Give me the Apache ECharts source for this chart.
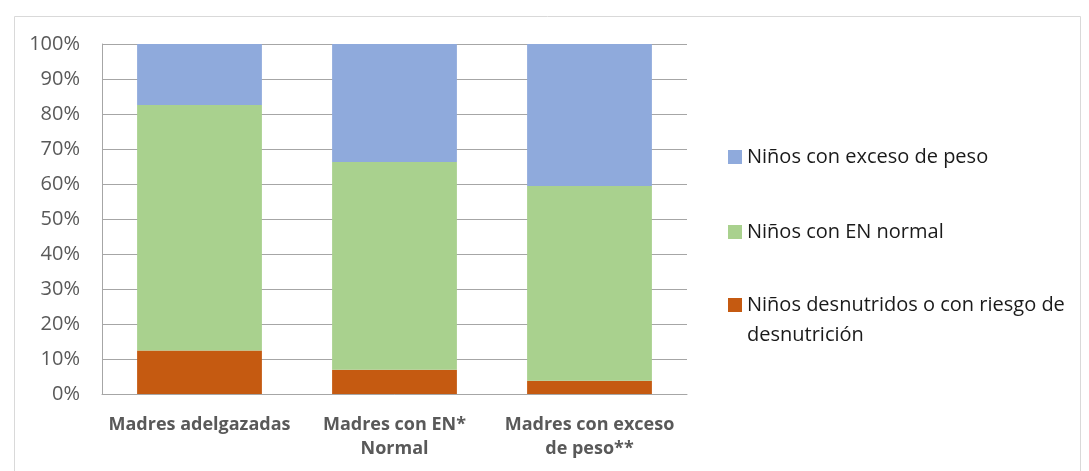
<!DOCTYPE html>
<html>
<head>
<meta charset="utf-8">
<script src="https://cdn.jsdelivr.net/npm/echarts@6/dist/echarts.min.js"></script>
<style>
  html, body { margin: 0; padding: 0; background: #fff; }
  #chart { width: 1089px; height: 471px; }
</style>
</head>
<body>
<div id="chart"></div>
<script>
const categories = ['Madres adelgazadas', 'Madres con EN*\nNormal', 'Madres con exceso\nde peso**'];
const seriesNames = [
  'Niños desnutridos o con riesgo de\ndesnutrición',
  'Niños con EN normal',
  'Niños con exceso de peso',
];
const desnutridos = [12.4, 6.9, 3.8];
const normal = [70.2, 59.4, 55.6];
const exceso = [17.4, 33.7, 40.6];
const colors = ['#c55a11', '#a9d18e', '#8faadc'];

const font = '"Open Sans", sans-serif';
const chart = echarts.init(document.getElementById('chart'));

// square sits at the top of a taller icon box, so a two-line label lines up with its first line
const tallSquare = 'path://M0,0H14V14H0Z M0,44L0,44';

function legendAt(name, top, extra) {
  return Object.assign({
    orient: 'vertical',
    left: 728,
    top: top,
    padding: 0,
    itemWidth: 14,
    itemHeight: 14,
    itemGap: 0,
    icon: 'rect',
    selectedMode: false,
    data: [name],
    textStyle: { fontSize: 20, color: '#1a1a1a', fontFamily: font, lineHeight: 24 },
  }, extra || {});
}

chart.setOption({
  animation: false,
  graphic: [
    {
      type: 'rect',
      left: 12,
      top: 14,
      shape: { width: 1066, height: 470 },
      style: { fill: 'none', stroke: '#d9d9d9', lineWidth: 1 },
      silent: true,
    },
  ],
  legend: [
    legendAt(seriesNames[2], 145),
    legendAt(seriesNames[1], 220),
    legendAt(seriesNames[0], 290, {
      icon: tallSquare,
      itemHeight: 44,
      textStyle: { fontSize: 20, color: '#1a1a1a', fontFamily: font, lineHeight: 30 },
    }),
  ],
  grid: { left: 102, right: 402, top: 44, bottom: 77 },
  xAxis: {
    type: 'category',
    data: categories,
    axisLine: { lineStyle: { color: '#a6a6a6' } },
    axisTick: { show: false },
    axisLabel: {
      interval: 0,
      color: '#595959',
      fontSize: 18,
      fontWeight: 'bold',
      fontFamily: font,
      lineHeight: 24,
      margin: 19,
    },
  },
  yAxis: {
    type: 'value',
    min: 0,
    max: 100,
    interval: 10,
    axisLine: { show: true, lineStyle: { color: '#a6a6a6' } },
    axisTick: { show: false },
    splitLine: { lineStyle: { color: '#a6a6a6' } },
    axisLabel: {
      formatter: '{value}%',
      color: '#595959',
      fontSize: 20,
      fontFamily: font,
      margin: 22,
    },
  },
  series: [
    { name: seriesNames[0], type: 'bar', stack: 'total', data: desnutridos, barWidth: '64%', itemStyle: { color: colors[0] } },
    { name: seriesNames[1], type: 'bar', stack: 'total', data: normal, barWidth: '64%', itemStyle: { color: colors[1] } },
    { name: seriesNames[2], type: 'bar', stack: 'total', data: exceso, barWidth: '64%', itemStyle: { color: colors[2] } },
  ],
});
</script>
</body>
</html>
